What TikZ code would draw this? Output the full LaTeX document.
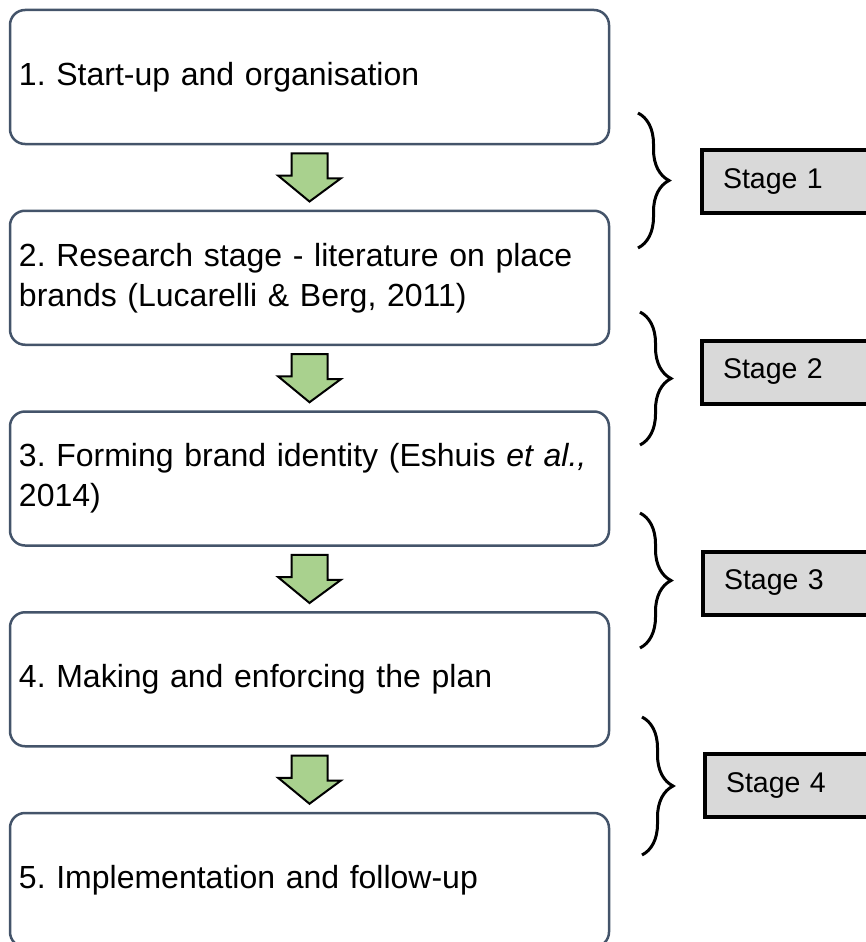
\documentclass[tikz,border=0pt]{standalone}
\usepackage{fontspec}
\setmainfont{Liberation Sans}
\usetikzlibrary{calc,decorations.pathreplacing}
\frenchspacing

\definecolor{boxline}{HTML}{44546A}
\definecolor{arrowgreen}{HTML}{A9D18E}
\definecolor{stagegray}{HTML}{D9D9D9}

\tikzset{
  stepbox/.style={draw=boxline, line width=2.5pt, rounded corners=15pt,
    minimum width=599pt, minimum height=134pt, text width=581pt,
    inner xsep=9pt, align=left, font=\fontsize{32}{40}\selectfont},
  stagebox/.style={draw=black, fill=stagegray, line width=4pt, anchor=west,
    minimum height=63pt, text width=133pt, inner xsep=21pt, align=left,
    font=\fontsize{28.5}{34}\selectfont},
  flowarrow/.style={draw=black, fill=arrowgreen, line width=2pt, line join=miter},
  stagebrace/.style={draw=black, line width=3pt,
    decorate, decoration={brace, amplitude=31pt}}
}

\begin{document}
\begin{tikzpicture}[x=1pt, y=1pt, node distance=200.75pt]
    \useasboundingbox (0,0) rectangle (866,-942);

    \node[stepbox] (b1) at (309.5,-77) {1. Start-up and organisation};
    \node[stepbox] (b2) [below of=b1] {2. Research stage - literature on place\\brands (Lucarelli \& Berg, 2011)};
    \node[stepbox] (b3) [below of=b2] {\mbox{3. Forming brand identity (Eshuis \textit{et al.,}}\\2014)};
    \node[stepbox] (b4) [below of=b3] {4. Making and enforcing the plan};
    \node[stepbox] (b5) [below of=b4] {5. Implementation and follow-up};

    \draw[flowarrow] ($(b1.south)+(-18,-8)$) -- ++(36,0) -- ++(0,-25) -- ++(13.5,0) -- ($(b2.north)+(0,8)$) -- ++(-31.5,26) -- ++(13.5,0) -- cycle;
    \draw[flowarrow] ($(b2.south)+(-18,-8)$) -- ++(36,0) -- ++(0,-25) -- ++(13.5,0) -- ($(b3.north)+(0,8)$) -- ++(-31.5,26) -- ++(13.5,0) -- cycle;
    \draw[flowarrow] ($(b3.south)+(-18,-8)$) -- ++(36,0) -- ++(0,-25) -- ++(13.5,0) -- ($(b4.north)+(0,8)$) -- ++(-31.5,26) -- ++(13.5,0) -- cycle;
    \draw[flowarrow] ($(b4.south)+(-18,-8)$) -- ++(36,0) -- ++(0,-25) -- ++(13.5,0) -- ($(b5.north)+(0,8)$) -- ++(-31.5,26) -- ++(13.5,0) -- cycle;

    \node[stagebox] (g1) at (700,-181.5) {Stage 1};
    \node[stagebox] (g2) at (700,-372) {Stage 2};
    \node[stagebox] (g3) at (701,-583) {Stage 3};
    \node[stagebox] (g4) at (703,-785) {Stage 4};

    \draw[stagebrace] (638,-113) -- (638,-248);
    \draw[stagebrace] (640,-312) -- (640,-445);
    \draw[stagebrace] (640,-513) -- (640,-648);
    \draw[stagebrace] (642,-717) -- (642,-855);
  \end{tikzpicture}
\end{document}
